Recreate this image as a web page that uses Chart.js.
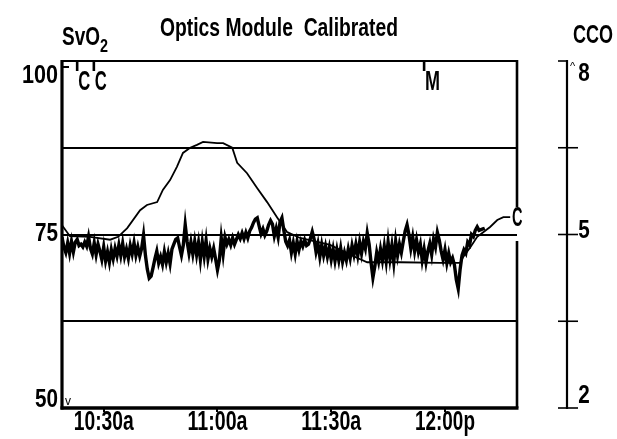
<!DOCTYPE html>
<html>
<head>
<meta charset="utf-8">
<script src="https://cdn.jsdelivr.net/npm/chart.js@4.4.1/dist/chart.umd.min.js"></script>
<style>
html,body{margin:0;padding:0;background:#fff;}
#wrap{width:617px;height:439px;position:relative;}
</style>
</head>
<body>
<div id="wrap"><canvas id="c"></canvas></div>
<script>
// ---- data ----
const titleText = 'Optics Module  Calibrated';
const xTickMinutes = [11, 41, 71, 101];           // minutes after 10:19
const xTickLabels = ['10:30a', '11:00a', '11:30a', '12:00p'];
const svo2Grid = [50, 62.5, 75, 87.5, 100];
const svo2Labels = [100, 75, 50];
const ccoTicks = [8, 6.5, 5, 3.5, 2];
const ccoLabels = [8, 5, 2];
const eventTimes = [4, 8.4, 95.5];
const eventLabels = ['C', 'C', 'M'];

// SvO2 trace, one reading every half minute starting at minute 0
const svo2Step = 0.5;
const svo2Values = [
  74.6, 73.2, 72.4, 73.8, 72.3, 74.0, 72.5, 73.9, 74.3, 73.4,
  73.6, 73.2, 73.9, 73.3, 74.7, 73.0, 72.2, 73.8, 72.1, 73.6,
  72.6, 71.4, 73.2, 71.2, 72.5, 71.0, 72.8, 71.5, 73.0, 71.9,
  73.5, 72.0, 73.7, 71.8, 72.9, 71.6, 73.4, 72.2, 73.8, 72.0,
  73.2, 71.9, 73.0, 74.9, 72.0, 70.0, 68.7, 69.0, 70.2, 71.5,
  72.6, 70.9, 71.8, 70.7, 72.5, 71.0, 72.3, 70.8, 72.9, 73.6,
  74.3, 74.5, 73.2, 72.0, 73.5, 76.4, 74.0, 72.3, 73.9, 72.2,
  74.0, 72.1, 73.8, 71.4, 73.9, 71.9, 74.1, 71.5, 73.0, 71.8,
  73.0, 71.5, 69.9, 71.3, 74.5, 72.2, 74.6, 73.6, 74.3, 73.5,
  74.5, 73.6, 74.3, 75.0, 74.4, 75.2, 74.4, 75.3, 74.5, 75.5,
  76.0, 76.7, 77.2, 77.4, 76.2, 75.1, 75.8, 74.9, 75.5, 76.4,
  77.0, 76.5, 74.8, 75.9, 74.6, 76.8, 77.4, 75.6, 74.0, 73.4,
  74.2, 72.4, 73.8, 72.2, 74.0, 72.8, 74.0, 73.3, 74.2, 73.4,
  73.6, 74.4, 75.4, 74.3, 72.5, 73.7, 71.8, 73.5, 72.0, 73.3,
  71.8, 73.1, 71.4, 72.9, 71.2, 72.8, 71.3, 73.0, 71.1, 72.4,
  71.3, 72.9, 71.6, 73.4, 72.1, 73.6, 72.0, 73.9, 72.3, 74.0,
  73.0, 75.2, 73.6, 71.0, 68.8, 70.4, 72.4, 71.1, 72.9, 71.3,
  73.3, 71.2, 73.9, 71.5, 73.4, 71.0, 74.0, 72.0, 73.6, 72.4,
  74.0, 75.5, 76.4, 75.0, 73.0, 74.6, 72.6, 74.2, 72.5, 73.6,
  71.3, 72.9, 71.0, 72.6, 73.7, 72.1, 74.3, 73.2, 75.3, 74.2,
  72.6, 71.4, 72.8, 70.9, 72.3, 71.0, 71.6, 70.6, 68.5, 67.2,
  70.0, 72.0, 72.8, 72.3, 73.9, 73.5, 75.0, 74.7, 75.6, 76.1,
  75.6, 75.7, 75.8, 75.9
];

// CCO trace (L/min)
const ccoTimes = [0, 2.1, 7.4, 12.7, 14.8, 17.2, 20.6, 22.4, 25.1, 26.6, 28.5, 30.3, 31.9, 33.8, 35.6, 37.2,
  40.9, 42.5, 44.9, 46.2, 48.8, 51.5, 54.1, 56.7, 59.4, 62.8, 70.7, 76.0, 80.5, 89.2, 99.7, 105,
  105.8, 107.7, 109.5, 111.1, 112.9, 114.8, 116.4, 118.2];
const ccoValues = [5.16, 4.97, 4.96, 4.91, 4.96, 5.11, 5.42, 5.51, 5.56, 5.77, 5.94, 6.17, 6.41, 6.50, 6.55, 6.60,
  6.58, 6.58, 6.50, 6.24, 6.06, 5.80, 5.56, 5.30, 5.04, 4.94, 4.82, 4.65, 4.52, 4.52, 4.51, 4.51,
  4.61, 4.78, 4.96, 5.04, 5.13, 5.25, 5.30, 5.30];

// ---- styling ----
const FONT = '"Liberation Sans", Arial, sans-serif';

// draw condensed text: centre (cx, cy), font size px, squeezed to given width
function fitText(ctx, text, cx, cy, px, width) {
  ctx.font = 'bold ' + px + 'px ' + FONT;
  const m = ctx.measureText(text).width;
  ctx.save();
  ctx.translate(cx, cy);
  ctx.scale(width / m, 1);
  ctx.textAlign = 'center';
  ctx.textBaseline = 'middle';
  ctx.fillText(text, 0, 0);
  ctx.restore();
}

const decor = {
  id: 'decor',
  afterDraw(chart) {
    const {ctx, chartArea: a, scales: {x, y, y2}} = chart;
    ctx.save();
    ctx.strokeStyle = '#000';
    ctx.fillStyle = '#000';
    ctx.lineCap = 'butt';
    const seg = (x1, y1, x2, y2_, w) => {
      ctx.lineWidth = w; ctx.beginPath(); ctx.moveTo(x1, y1); ctx.lineTo(x2, y2_); ctx.stroke();
    };
    // frame
    seg(a.left, a.top, a.right + 1, a.top, 2.2);
    seg(a.left, a.top - 1, a.left, a.bottom + 1.5, 3.2);
    seg(a.left - 1.5, a.bottom, a.right + 1.5, a.bottom, 3.4);
    seg(a.right, a.top - 1, a.right, a.top + 146, 2.6);
    seg(a.right, a.top + 180, a.right, a.bottom, 2.6);
    seg(a.left, a.top + 6, a.left + 7, a.top + 6, 2);

    // left SvO2 labels
    const leftOff = {100: 15.5, 75: -0.5, 50: -8};
    const leftW = {100: 36, 75: 23, 50: 23};
    svo2Labels.forEach(v => {
      const w = leftW[v];
      fitText(ctx, String(v), a.left - 4 - w / 2, y.getPixelForValue(v) + leftOff[v], 25, w);
    });
    ctx.font = '12px ' + FONT;
    ctx.textAlign = 'left';
    ctx.textBaseline = 'middle';
    ctx.fillText('v', a.left + 3, a.bottom - 6);

    // x tick labels
    xTickMinutes.forEach((t, i) => {
      fitText(ctx, xTickLabels[i], x.getPixelForValue(t), a.bottom + 15, 27, 60);
    });

    // right CCO axis
    const ax = 567;
    seg(ax, y2.getPixelForValue(8) - 1, ax, y2.getPixelForValue(2) + 1, 2.2);
    ccoTicks.forEach(v => {
      const py = y2.getPixelForValue(v);
      const r = v === 8 ? ax + 1 : ax + 11;
      seg(ax - 9, py, r, py, 1.6);
    });
    const rightOff = {8: 13, 5: -3.5, 2: -12};
    ccoLabels.forEach(v => fitText(ctx, String(v), ax + 17, y2.getPixelForValue(v) + rightOff[v], 25, 11.5));
    ctx.font = '11px ' + FONT;
    ctx.textAlign = 'left';
    ctx.fillText('^', ax + 3, y2.getPixelForValue(8) + 6);

    // titles
    fitText(ctx, titleText, 279, 29, 26, 238);
    fitText(ctx, 'SvO', 81, 38, 26, 38);
    fitText(ctx, '2', 104, 47, 19, 8);
    fitText(ctx, 'CCO', 593, 36, 25, 40);

    // event markers
    eventTimes.forEach((t, i) => {
      const px = x.getPixelForValue(t);
      seg(px, a.top, px, a.top + 10, 2.6);
      const lw = eventLabels[i] === 'M' ? 15 : 12;
      fitText(ctx, eventLabels[i], px + 1 + lw / 2, a.top + 22, 27, lw);
    });

    // end-of-trace label on CCO
    const lastT = ccoTimes[ccoTimes.length - 1];
    const lastV = ccoValues[ccoValues.length - 1];
    const ex = x.getPixelForValue(lastT), ey = y2.getPixelForValue(lastV);
    fitText(ctx, 'C', ex + 7, ey + 1, 27, 10.5);
    ctx.restore();
  }
};

new Chart(document.getElementById('c'), {
  type: 'line',
  data: {
    datasets: [
      {
        label: 'SvO2',
        data: svo2Values.map((v, i) => ({x: i * svo2Step, y: v})),
        borderColor: '#000', borderWidth: 3.4, pointRadius: 0, tension: 0, yAxisID: 'y', fill: false
      },
      {
        label: 'CCO',
        data: ccoTimes.map((t, i) => ({x: t, y: ccoValues[i]})),
        borderColor: '#000', borderWidth: 1.8, pointRadius: 0, tension: 0, yAxisID: 'y2', fill: false
      }
    ]
  },
  options: {
    responsive: true,
    maintainAspectRatio: false,
    animation: false,
    layout: {padding: {top: 61, right: 100, left: 0, bottom: 0}},
    plugins: {legend: {display: false}, title: {display: false}, tooltip: {enabled: false}},
    scales: {
      x: {
        type: 'linear', min: 0, max: 120,
        afterBuildTicks: s => { s.ticks = xTickMinutes.map(v => ({value: v})); },
        afterFit: s => { s.height = 31; },
        grid: {display: true, drawOnChartArea: false, drawTicks: true, tickLength: 4, color: '#000', lineWidth: 2},
        border: {display: false},
        ticks: {display: false, autoSkip: false}
      },
      y: {
        min: 50, max: 100,
        afterBuildTicks: s => { s.ticks = svo2Grid.map(v => ({value: v})); },
        afterFit: s => { s.width = 62; },
        ticks: {display: false},
        grid: {color: '#000', lineWidth: 2, drawTicks: false},
        border: {display: false}
      },
      y2: {display: false, min: 2, max: 8}
    }
  },
  plugins: [decor]
});
</script>
</body>
</html>
